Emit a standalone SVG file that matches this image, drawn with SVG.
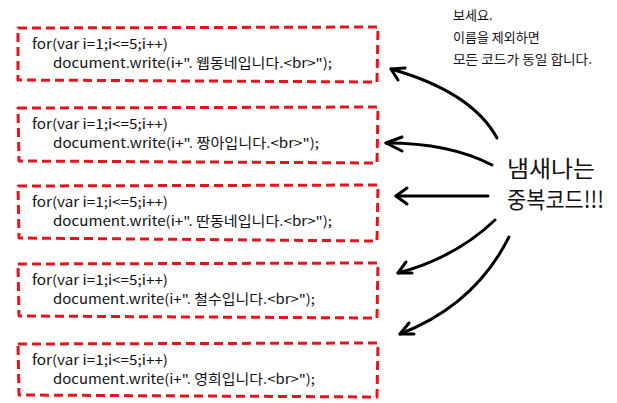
<svg xmlns="http://www.w3.org/2000/svg" width="617" height="403" viewBox="0 0 617 403">
<style>
.box{fill:none;stroke:#e8141c;stroke-width:3;stroke-dasharray:9 5;stroke-linejoin:round}
.code{font-family:"Noto Sans CJK KR","Noto Sans",sans-serif;font-size:13.5px;fill:#111}
.note{font-family:"Noto Sans CJK KR",sans-serif;font-size:13px;fill:#111}
.big{font-family:"Noto Sans CJK KR",sans-serif;font-size:23px;fill:#111}
.arr{fill:none;stroke:#000;stroke-width:3;stroke-linecap:round;stroke-linejoin:round}
</style>
<rect width="617" height="403" fill="#fff"/>
<g id="box1">
<path class="box" d="M18 28 L378 27 L377 82 L18 80 Z"/>
<text class="code" x="32" y="49" textLength="136" lengthAdjust="spacingAndGlyphs">for(var i=1;i&lt;=5;i++)</text>
<text class="code" x="53" y="68" textLength="279" lengthAdjust="spacingAndGlyphs">document.write(i+". 웹동네입니다.&lt;br&gt;");</text>
</g>
<g id="box2">
<path class="box" d="M18 108 L378 107 L377 163 L19 161 Z"/>
<text class="code" x="32" y="129" textLength="136" lengthAdjust="spacingAndGlyphs">for(var i=1;i&lt;=5;i++)</text>
<text class="code" x="53" y="148" textLength="266" lengthAdjust="spacingAndGlyphs">document.write(i+". 짱아입니다.&lt;br&gt;");</text>
</g>
<g id="box3">
<path class="box" d="M18 186 L378 185 L377 241 L19 238 Z"/>
<text class="code" x="32" y="207" textLength="136" lengthAdjust="spacingAndGlyphs">for(var i=1;i&lt;=5;i++)</text>
<text class="code" x="53" y="226" textLength="279" lengthAdjust="spacingAndGlyphs">document.write(i+". 딴동네입니다.&lt;br&gt;");</text>
</g>
<g id="box4">
<path class="box" d="M18 264 L378 263 L377 318 L19 316 Z"/>
<text class="code" x="32" y="285" textLength="136" lengthAdjust="spacingAndGlyphs">for(var i=1;i&lt;=5;i++)</text>
<text class="code" x="53" y="304" textLength="262" lengthAdjust="spacingAndGlyphs">document.write(i+". 철수입니다.&lt;br&gt;");</text>
</g>
<g id="box5">
<path class="box" d="M18 344 L378 343 L377 397 L19 395 Z"/>
<text class="code" x="32" y="365" textLength="136" lengthAdjust="spacingAndGlyphs">for(var i=1;i&lt;=5;i++)</text>
<text class="code" x="53" y="384" textLength="262" lengthAdjust="spacingAndGlyphs">document.write(i+". 영희입니다.&lt;br&gt;");</text>
</g>
<g id="note">
<text class="note" x="453" y="20">보세요.</text>
<text class="note" x="453" y="42">이름을 제외하면</text>
<text class="note" x="453" y="64" textLength="139" lengthAdjust="spacingAndGlyphs">모든 코드가 동일 합니다.</text>
</g>
<g id="label">
<text class="big"><tspan x="507" y="177" textLength="88" lengthAdjust="spacingAndGlyphs">냄새나는</tspan><tspan x="507" y="208" textLength="97" lengthAdjust="spacingAndGlyphs">중복코드!!!</tspan></text>
</g>
<g id="connectors">
<path class="arr" d="M497 138 Q472 92 391 69"/>
<path class="arr" d="M405 68 L391 69 L398 80"/>
<path class="arr" d="M492 165 Q450 143 386 143"/>
<path class="arr" d="M402 137 L386 143 L402 151"/>
<path class="arr" d="M488 196 L396 196"/>
<path class="arr" d="M407 188 L396 196 L407 204"/>
<path class="arr" d="M495 220 Q455 258 398 273"/>
<path class="arr" d="M406 262 L398 273 L412 273"/>
<path class="arr" d="M509 237 Q475 305 400 334"/>
<path class="arr" d="M409 323 L400 334 L414 334"/>
</g>
</svg>
